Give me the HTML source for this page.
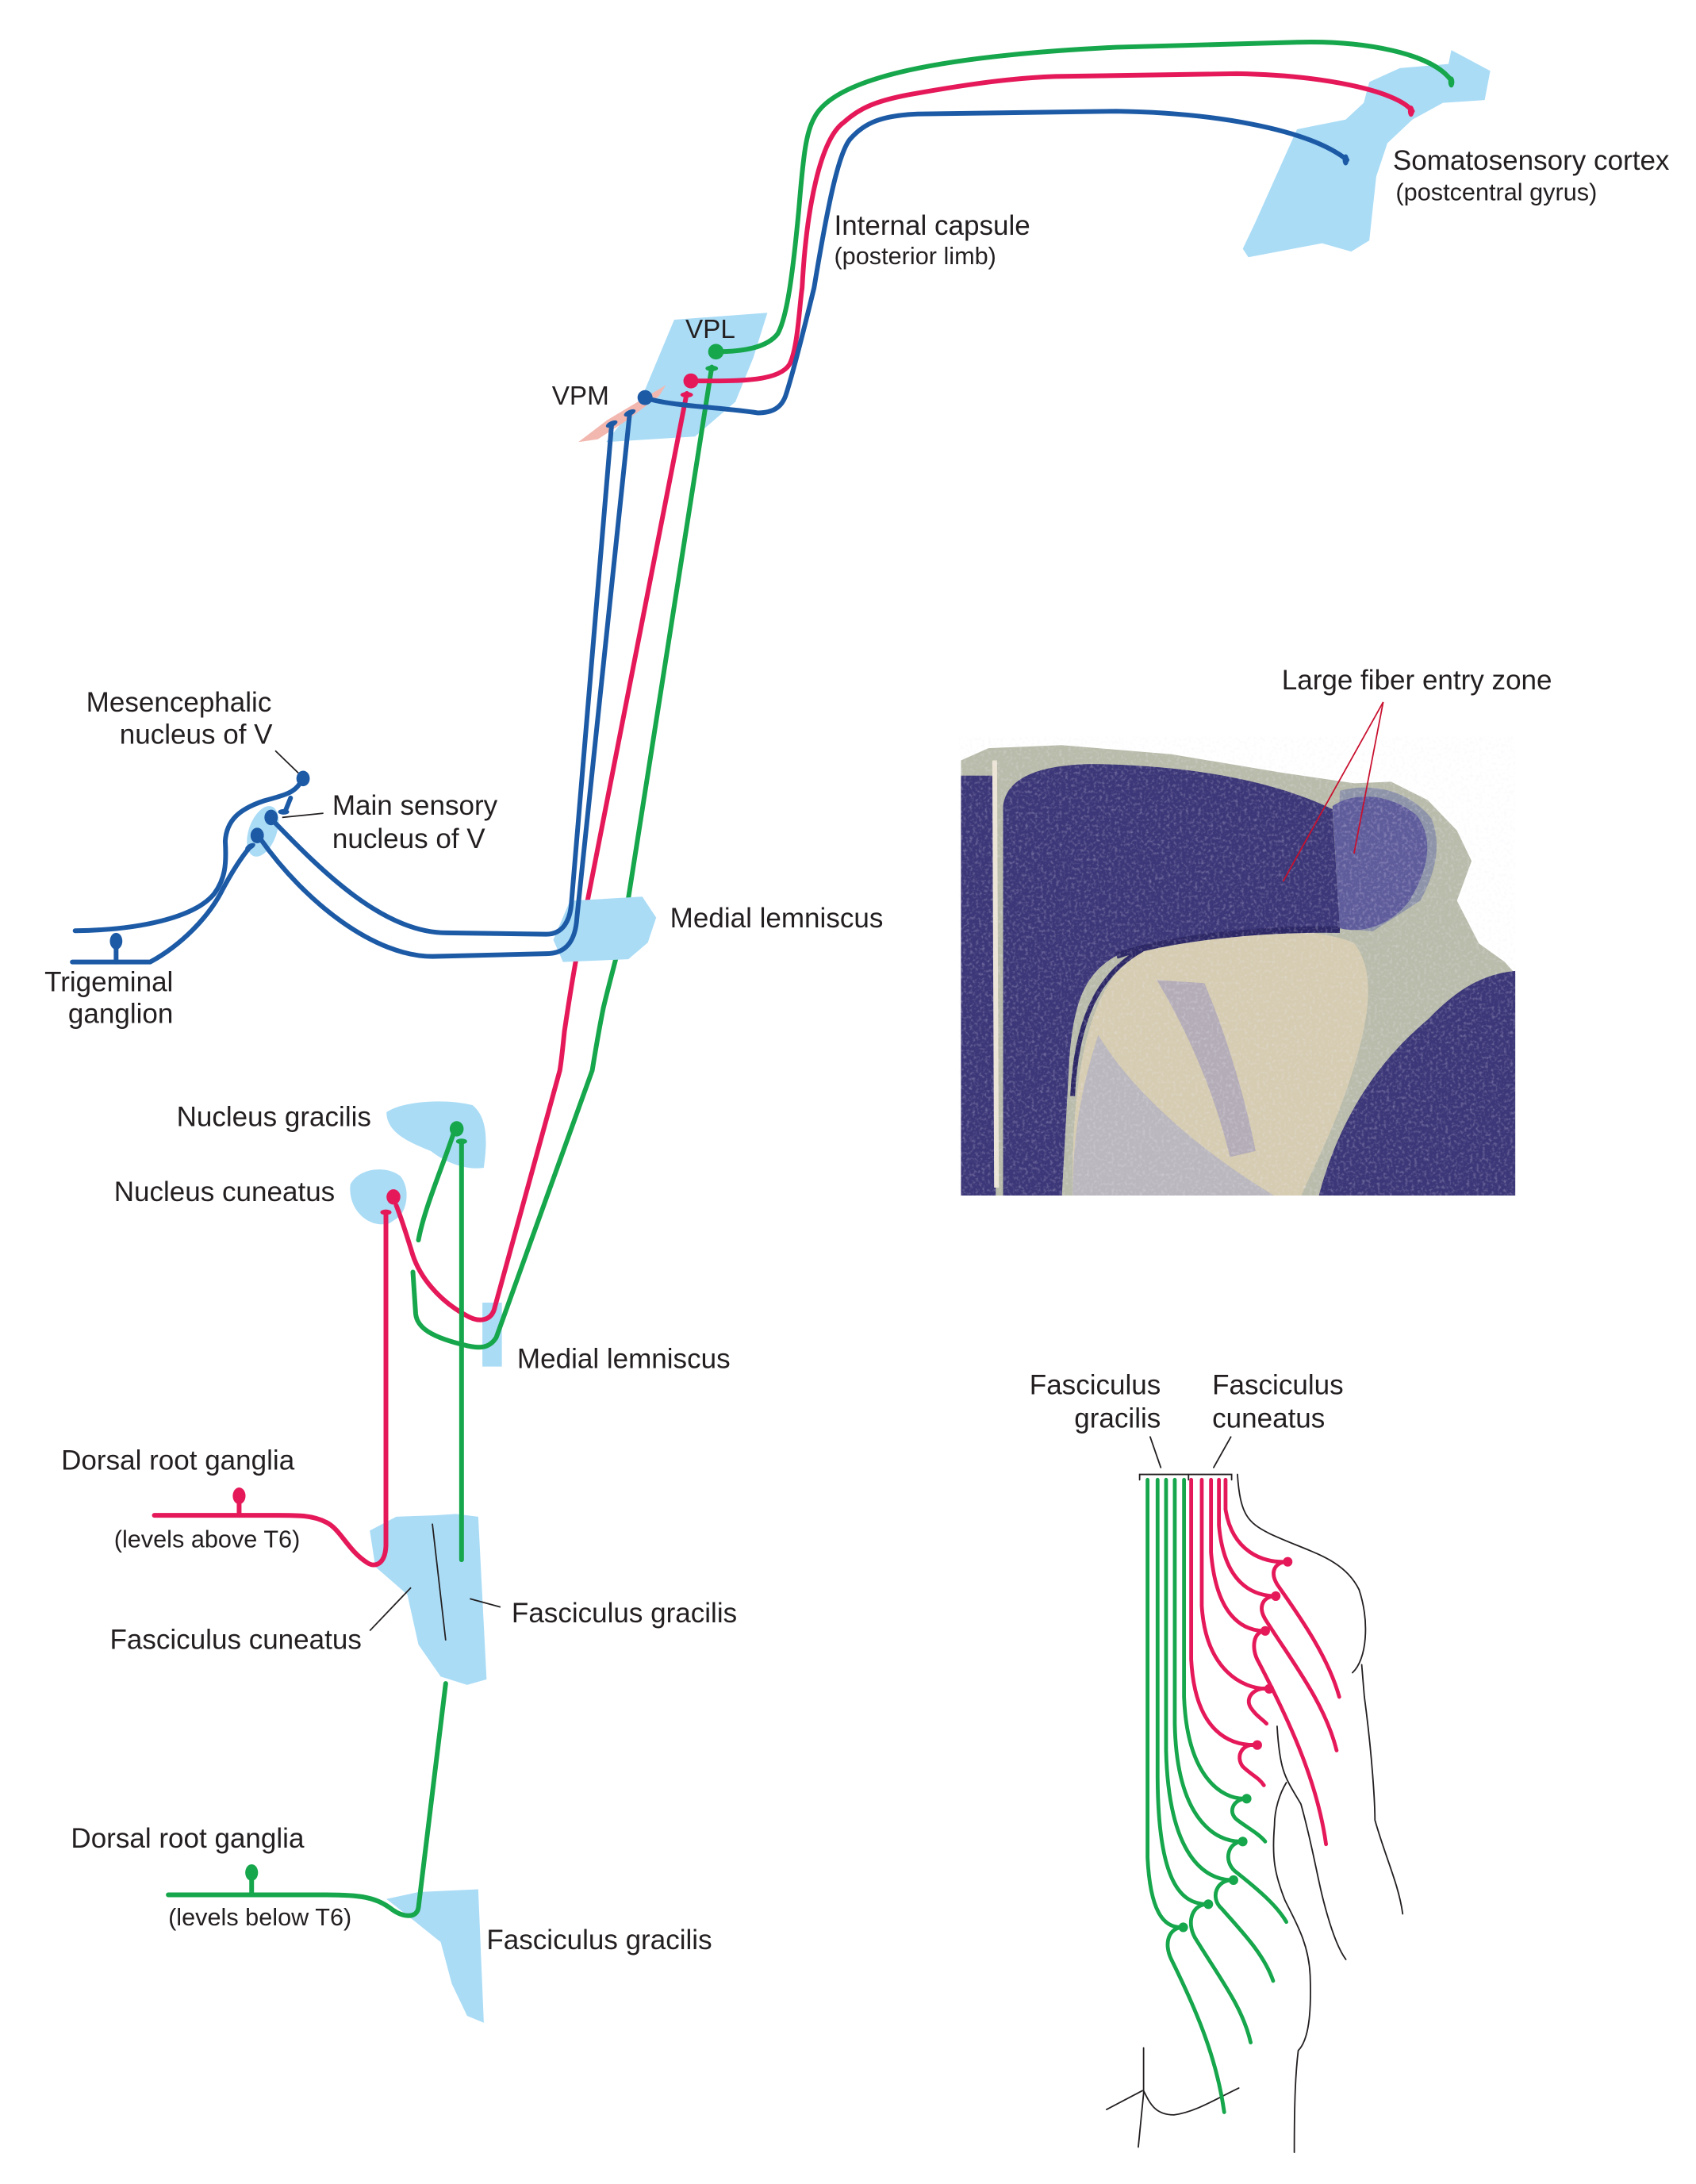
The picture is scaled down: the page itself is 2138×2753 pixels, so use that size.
<!DOCTYPE html>
<html><head><meta charset="utf-8"><style>
html,body{margin:0;padding:0;background:#fff;}
svg{display:block;}
text{font-family:"Liberation Sans",Arial,sans-serif;fill:#231f20;}
</style></head><body>
<svg width="2138" height="2753" viewBox="0 0 1220 1571" xmlns="http://www.w3.org/2000/svg">
<defs>
<clipPath id="pc"><rect x="690" y="530" width="400" height="330"/></clipPath>
<filter id="nz" x="0" y="0" width="1" height="1">
<feTurbulence type="fractalNoise" baseFrequency="0.45" numOctaves="2" seed="4"/>
<feColorMatrix type="matrix" values="0 0 0 0 0.85  0 0 0 0 0.82  0 0 0 0 0.9  2.2 0 0 0 -1.05"/>
</filter>
</defs>

<!-- light blue regions -->
<g fill="#aadcf6">
<path d="M1044,36 L1072,51 L1068,72 L1038,74 L1016,86 L998,103 L990,127 L985,173 L972,181 L951,175 L898,185 L894,179 L903,160 L933,93 L968,86 L981,74 L985,59 L1007,49 L1042,46 Z"/>
<path d="M485,230 L552,225 L542,257 L529,289 L500,314 L436,318 L462,285 Z"/>
<path d="M278,800 C290,792 320,790 340,795 C352,805 350,825 348,840 C335,842 320,836 310,828 C295,822 278,815 278,800 Z"/>
<path d="M252,852 C258,840 278,838 288,846 C296,856 292,872 286,876 L280,880 C265,884 250,870 252,852 Z"/>
<rect x="347" y="937" width="14" height="46"/>
<path d="M266,1101 L285,1091 L313,1090 L328,1089 L344,1091 L350,1208 L336,1212 L317,1206 L301,1183 L293,1147 L270,1127 Z"/>
<path d="M278,1366 L301,1361 L344,1359 L348,1455 L336,1450 L325,1427 L317,1397 L297,1381 Z"/>
<ellipse cx="189" cy="598" rx="10" ry="19" transform="rotate(20 189 598)"/>
</g>
<path d="M416,318 L437,302 L479,277 L474,285 L450,303 L430,316 Z" fill="#f2b8b0"/>

<!-- red/green lemniscal (under ML) -->
<g fill="none" stroke-linecap="round" stroke-linejoin="round" stroke-width="3.4">
<path stroke="#16a64b" d="M512,264 L449.5,662 C446,680 440,700 434,725 C430,745 428,758 426,770 L357,962 C352,970 345,970 336,968 C310,962 300,955 299,945 L297,915"/>
<path stroke="#16a64b" d="M326,816 C318,840 305,870 301,892"/>
<path stroke="#e5195a" d="M494,283 L418.7,668 C414,690 410,715 406,742 C405,752 404,762 402.7,770 L356,940 C354,950 345,952 335,946 C315,935 302,918 297,903 C293,890 289,877 285,867"/>
</g>
<path d="M410,648 L462,645 L472,660 L466,678 L452,690 L405,692 L398,676 Z" fill="#aadcf6"/>

<g fill="none" stroke-linecap="round" stroke-linejoin="round" stroke-width="3.4">
<!-- top fibers -->
<path stroke="#16a64b" d="M515,253 C535,253 552,250 559.5,240 C566,228 570,200 574.7,150 C578,110 580,95 585.6,85 C600,55 680,40 802.9,34 L933,30.4 C980,29 1030,38 1044,58"/>
<path stroke="#e5195a" d="M497,274 C530,274 560,275 568,262 C574,250 575,220 577,207 C580,150 590,100 607,88 C618,78 630,72 660,67 C700,60 730,56 759,55 L890,53 C950,54 1005,65 1016,80"/>
<path stroke="#1c5aa6" d="M464,286 C480,292 520,293 545,297 C556,297 562,293 565,285 C570,270 580,230 585.6,207 C595,150 603,110 611.6,100 C622,88 635,83 660,82 L802.9,80 C870,81 940,92 969,115"/>
<!-- trigeminal -->
<path stroke="#1c5aa6" d="M197,591 C230,625 275,671 321,671 L393,672 C405,672 410,662 411,650 L440,305"/>
<path stroke="#1c5aa6" d="M187,603 C220,650 270,688 311,688 L393,686 C408,686 414,676 415,660 L453,297"/>
<path stroke="#1c5aa6" d="M54,669.5 C100,669 140,660 154,643 C162,632 163,622 162,605 C163,590 172,582 190,576 C205,572 212,570 216,563"/>
<path stroke="#1c5aa6" d="M209,574 L205,584"/>
<path stroke="#1c5aa6" d="M52,692 L108,692 C130,680 150,660 160,640 C168,625 175,615 180,609"/>
<path stroke="#1c5aa6" d="M83.5,677 L83.5,692"/>
<!-- lower left -->
<path stroke="#e5195a" d="M277.6,872 L277.6,1112 C277,1125 270,1128 264,1124 C250,1115 245,1100 234.6,1095 C225,1090 215,1090 200,1090 L111,1090"/>
<path stroke="#e5195a" d="M172,1076 L172,1090"/>
<path stroke="#16a64b" d="M332,1122 L332,821"/>
<path stroke="#16a64b" d="M121,1363 L234.6,1363 C260,1363 270,1365 280,1372 C290,1380 300,1380 301,1372 L320.6,1211"/>
<path stroke="#16a64b" d="M181,1347 L181,1363"/>
</g>

<!-- dots -->
<g>
<circle cx="515" cy="253" r="5.6" fill="#16a64b"/>
<circle cx="497" cy="274" r="5.4" fill="#e5195a"/>
<circle cx="464" cy="286" r="5.4" fill="#1c5aa6"/>
<ellipse cx="218" cy="560" rx="4.8" ry="5.6" fill="#1c5aa6"/>
<ellipse cx="195" cy="588" rx="4.8" ry="5.6" fill="#1c5aa6"/>
<ellipse cx="185" cy="601" rx="4.8" ry="5.6" fill="#1c5aa6"/>
<ellipse cx="83.5" cy="677" rx="4.5" ry="6" fill="#1c5aa6"/>
<ellipse cx="328.5" cy="812" rx="5" ry="5.5" fill="#16a64b"/>
<ellipse cx="283" cy="861" rx="5" ry="5.5" fill="#e5195a"/>
<ellipse cx="172" cy="1076" rx="4.6" ry="6" fill="#e5195a"/>
<ellipse cx="181" cy="1347" rx="4.6" ry="6" fill="#16a64b"/>
<ellipse cx="512" cy="265" rx="4.5" ry="2" fill="#16a64b"/>
<ellipse cx="494" cy="284" rx="4.5" ry="2" fill="#e5195a"/>
<ellipse cx="440" cy="305" rx="4.5" ry="2" transform="rotate(-25 440 305)" fill="#1c5aa6"/>
<ellipse cx="453" cy="297" rx="4.5" ry="2" transform="rotate(-25 453 297)" fill="#1c5aa6"/>
<ellipse cx="1044" cy="59" rx="2.2" ry="4" fill="#16a64b"/>
<ellipse cx="1015" cy="80" rx="2.2" ry="4" fill="#e5195a"/>
<ellipse cx="968" cy="115" rx="2.2" ry="4" fill="#1c5aa6"/>
<ellipse cx="204" cy="584" rx="4" ry="2" fill="#1c5aa6"/>
<ellipse cx="180" cy="609" rx="4" ry="2" transform="rotate(-30 180 609)" fill="#1c5aa6"/>
<ellipse cx="277.6" cy="872" rx="4" ry="2" fill="#e5195a"/>
<ellipse cx="332" cy="821" rx="4" ry="2" fill="#16a64b"/>
</g>

<!-- black leader lines -->
<g stroke="#231f20" stroke-width="1" fill="none">
<line x1="198" y1="540" x2="214.6" y2="556"/>
<line x1="232.6" y1="585" x2="203" y2="588"/>
<line x1="311" y1="1096" x2="320.6" y2="1180"/>
<line x1="295.6" y1="1142" x2="266" y2="1173"/>
<line x1="338" y1="1150" x2="360" y2="1156"/>
</g>

<!-- photo -->
<g clip-path="url(#pc)">
<g transform="translate(684.7,525) scale(0.2633,0.2195)">
<rect x="0" y="0" width="1600" height="1600" fill="#fff"/>
<path d="M25,100 L100,60 L300,50 L600,80 L900,140 L1100,175 L1200,170 L1300,230 L1380,330 L1420,430 L1380,560 L1440,700 L1510,760 L1540,800 L1540,1540 L25,1540 Z" fill="#b9bcab"/>
<path d="M1060,200 C1150,170 1250,200 1310,290 C1340,380 1320,470 1280,560 L1150,660 L1050,650 Z" fill="#8d93a8"/>
<rect x="25" y="150" width="95" height="1390" fill="#3c3778"/>
<path d="M140,1540 L140,250 C150,150 250,115 380,112 C600,115 850,150 1040,260 L1060,650 C850,650 600,680 450,740 C360,800 330,900 320,1100 L300,1540 Z" fill="#3c3778"/>
<path d="M1040,250 C1100,200 1200,210 1270,280 C1320,360 1300,460 1250,560 C1200,640 1120,670 1060,650 Z" fill="#5f5c9c"/>
<path d="M330,1540 C325,1100 380,820 520,720 C700,640 1000,640 1100,700 C1150,780 1150,900 1100,1100 C1050,1300 980,1450 950,1540 Z" fill="#d6ccb2"/>
<path d="M330,1540 C330,1300 360,1150 400,1000 C500,1200 700,1400 900,1540 Z" fill="#b3b1c0" opacity="0.8"/>
<path d="M560,820 C650,1000 720,1200 760,1400 L830,1380 C800,1200 750,1000 690,830 Z" fill="#9d98bd" opacity="0.6"/>
<path d="M1000,1540 C1050,1300 1150,1100 1300,950 C1380,850 1450,800 1540,790 L1540,1540 Z" fill="#3c3778"/>
<line x1="117" y1="100" x2="122" y2="1500" stroke="#ece5d6" stroke-width="6" vector-effect="non-scaling-stroke"/>
<path d="M450,740 C600,680 850,650 1060,655" stroke="#2d2866" stroke-width="8" fill="none" vector-effect="non-scaling-stroke"/>
<path d="M330,1200 C340,950 400,800 520,720" stroke="#2d2866" stroke-width="6" fill="none" vector-effect="non-scaling-stroke"/>
</g>
<rect x="690" y="530" width="400" height="330" filter="url(#nz)" opacity="0.35"/>
</g>
<g stroke="#c8102e" stroke-width="1" fill="none">
<line x1="995" y1="505" x2="923" y2="634"/>
<line x1="995" y1="505" x2="974" y2="614"/>
</g>

<!-- right figure -->
<g transform="translate(741.8,970) scale(0.1902,0.3855)" fill="none" stroke-linecap="round">
<g stroke="#231f20" stroke-width="1.8">
<path vector-effect="non-scaling-stroke" d="M410,245 V235 H595 V245 M595,235 H758 V245"/>
<path vector-effect="non-scaling-stroke" d="M450,165 L490,222 M755,165 L690,222"/>
<path vector-effect="non-scaling-stroke" d="M780,235 C790,310 820,325 900,345 C1050,380 1180,390 1240,450 C1280,510 1270,580 1215,605"/>
<path vector-effect="non-scaling-stroke" d="M1250,590 L1260,650 C1290,760 1300,850 1300,880 C1340,950 1390,1000 1405,1055"/>
<path vector-effect="non-scaling-stroke" d="M930,705 C940,790 960,800 1020,850 C1060,920 1080,980 1100,1020 C1130,1080 1160,1120 1190,1140"/>
<path vector-effect="non-scaling-stroke" d="M965,810 C940,830 920,860 920,890 C910,950 920,980 960,1030 C1000,1070 1050,1110 1055,1170 C1060,1240 1050,1290 1010,1310 C1000,1350 995,1400 995,1500"/>
<path vector-effect="non-scaling-stroke" d="M285,1420 L420,1385 M425,1305 L425,1390 L405,1490 M425,1385 C450,1410 470,1430 540,1430 C620,1425 700,1400 785,1380"/>
</g>
<g stroke="#e5195a" stroke-width="4.8">
<path vector-effect="non-scaling-stroke" d="M735,245 L735,300 C760,380 880,400 960,398"/>
<path vector-effect="non-scaling-stroke" d="M710,245 L710,330 C730,440 840,460 915,462"/>
<path vector-effect="non-scaling-stroke" d="M680,245 L680,380 C700,500 800,525 875,527"/>
<path vector-effect="non-scaling-stroke" d="M645,245 L645,480 C660,600 800,635 890,635"/>
<path vector-effect="non-scaling-stroke" d="M605,245 L605,580 C620,720 760,740 845,740"/>
<path vector-effect="non-scaling-stroke" d="M970,398 C925,398 900,415 930,440 C1000,490 1120,570 1165,650"/>
<path vector-effect="non-scaling-stroke" d="M925,462 C880,462 855,480 885,505 C980,580 1110,660 1155,750"/>
<path vector-effect="non-scaling-stroke" d="M885,527 C840,527 830,560 860,585 C960,680 1080,800 1115,925"/>
<path vector-effect="non-scaling-stroke" d="M900,635 C850,630 805,650 830,670 C850,685 870,690 890,700"/>
<path vector-effect="non-scaling-stroke" d="M855,740 C800,735 770,760 800,780 C830,795 860,800 880,815"/>
</g>
<g stroke="#16a64b" stroke-width="4.8">
<path vector-effect="non-scaling-stroke" d="M578,245 L578,650 C590,800 720,840 805,840"/>
<path vector-effect="non-scaling-stroke" d="M543,245 L543,700 C550,880 700,920 790,920"/>
<path vector-effect="non-scaling-stroke" d="M510,245 L510,750 C520,950 660,990 755,992"/>
<path vector-effect="non-scaling-stroke" d="M478,245 L478,800 C480,1000 570,1035 660,1037"/>
<path vector-effect="non-scaling-stroke" d="M440,245 L440,950 C450,1050 500,1080 565,1080"/>
<path vector-effect="non-scaling-stroke" d="M815,840 C765,840 740,865 780,880 C820,895 860,905 885,920"/>
<path vector-effect="non-scaling-stroke" d="M800,920 C745,920 725,955 770,975 C860,1010 930,1040 965,1070"/>
<path vector-effect="non-scaling-stroke" d="M765,992 C700,990 675,1025 720,1045 C800,1090 880,1130 915,1180"/>
<path vector-effect="non-scaling-stroke" d="M670,1037 C610,1035 585,1070 620,1100 C720,1180 800,1230 830,1295"/>
<path vector-effect="non-scaling-stroke" d="M575,1080 C520,1080 500,1110 530,1140 C620,1230 700,1320 730,1425"/>
</g>
<g stroke="none">
<ellipse cx="970" cy="398" rx="18" ry="9" fill="#e5195a"/>
<ellipse cx="925" cy="462" rx="18" ry="9" fill="#e5195a"/>
<ellipse cx="885" cy="527" rx="18" ry="9" fill="#e5195a"/>
<ellipse cx="900" cy="635" rx="18" ry="9" fill="#e5195a"/>
<ellipse cx="855" cy="740" rx="18" ry="9" fill="#e5195a"/>
<ellipse cx="815" cy="840" rx="18" ry="9" fill="#16a64b"/>
<ellipse cx="800" cy="920" rx="18" ry="9" fill="#16a64b"/>
<ellipse cx="765" cy="992" rx="18" ry="9" fill="#16a64b"/>
<ellipse cx="670" cy="1037" rx="18" ry="9" fill="#16a64b"/>
<ellipse cx="575" cy="1080" rx="18" ry="9" fill="#16a64b"/>
</g>
</g>

<!-- labels -->
<g font-size="20">
<text x="1002" y="122">Somatosensory cortex</text>
<text x="1004" y="144" font-size="17.5">(postcentral gyrus)</text>
<text x="600" y="169">Internal capsule</text>
<text x="600" y="190" font-size="17.5">(posterior limb)</text>
<text x="493" y="243" font-size="19">VPL</text>
<text x="397" y="291" font-size="19">VPM</text>
<text x="62" y="512">Mesencephalic</text>
<text x="86" y="535">nucleus of V</text>
<text x="239" y="586">Main sensory</text>
<text x="239" y="610">nucleus of V</text>
<text x="482" y="667">Medial lemniscus</text>
<text x="32" y="713">Trigeminal</text>
<text x="49" y="736">ganglion</text>
<text x="922" y="496">Large fiber entry zone</text>
<text x="127" y="810">Nucleus gracilis</text>
<text x="82" y="864">Nucleus cuneatus</text>
<text x="372" y="984">Medial lemniscus</text>
<text x="44" y="1057">Dorsal root ganglia</text>
<text x="82" y="1113" font-size="17.5">(levels above T6)</text>
<text x="368" y="1167">Fasciculus gracilis</text>
<text x="79" y="1186">Fasciculus cuneatus</text>
<text x="51" y="1329">Dorsal root ganglia</text>
<text x="121" y="1385" font-size="17.5">(levels below T6)</text>
<text x="350" y="1402">Fasciculus gracilis</text>
<text x="835" y="1003" text-anchor="end">Fasciculus</text>
<text x="835" y="1027" text-anchor="end">gracilis</text>
<text x="872" y="1003">Fasciculus</text>
<text x="872" y="1027">cuneatus</text>
</g>
</svg>
</body></html>
